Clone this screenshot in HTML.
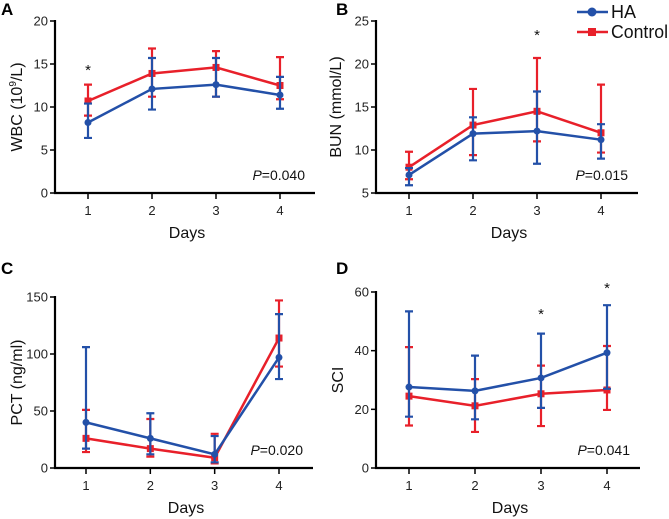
<!DOCTYPE html>
<html><head><meta charset="utf-8"><style>
html,body{margin:0;padding:0;background:#fff;}
svg{display:block;font-family:"Liberation Sans",Arial,sans-serif;}
</style></head><body>
<svg id="fig" width="669" height="519" viewBox="0 0 669 519">
  <g>
    <g>
      <line x1="577" y1="12" x2="608" y2="12" stroke="#2350a8" stroke-width="2.5"/>
      <circle cx="592" cy="12" r="4.5" fill="#2350a8"/>
      <text x="611" y="18" font-size="18" fill="#111">HA</text>
    </g>
    <g>
      <line x1="577" y1="32" x2="608" y2="32" stroke="#e8202a" stroke-width="2.5"/>
      <rect x="588" y="28" width="8" height="8" fill="#e8202a"/>
      <text x="611" y="38" font-size="18" fill="#111" textLength="57" lengthAdjust="spacingAndGlyphs">Control</text>
    </g>
  </g>
</svg>
<script>
const categories=["1","2","3","4"];
// Panel A WBC
const aHA=[8.2,12.1,12.6,11.4], aHAlo=[6.4,9.7,11.2,9.8], aHAhi=[10.4,15.7,15.7,13.5];
const aCt=[10.7,13.9,14.6,12.5], aCtlo=[9.0,11.2,11.2,10.9], aCthi=[12.6,16.8,16.5,15.8];
const aTicks=[0,5,10,15,20];
// Panel B BUN
const bHA=[7.1,11.9,12.2,11.2], bHAlo=[5.9,8.8,8.4,9.0], bHAhi=[7.9,13.8,16.8,13.0];
const bCt=[8.0,12.9,14.5,12.0], bCtlo=[6.6,9.4,11.0,9.7], bCthi=[9.8,17.1,20.7,17.6];
const bTicks=[5,10,15,20,25];
// Panel C PCT
const cHA=[40,26,12,97], cHAlo=[17,12,5,78], cHAhi=[106,48,28,135];
const cCt=[26,17,9,114], cCtlo=[14,10,4,89], cCthi=[51,43,30,147];
const cTicks=[0,50,100,150];
// Panel D SCI
const dHA=[27.6,26.3,30.7,39.3], dHAlo=[17.5,16.6,20.5,27.0], dHAhi=[53.4,38.3,45.8,55.5];
const dCt=[24.5,21.2,25.3,26.6], dCtlo=[14.5,12.3,14.3,19.8], dCthi=[41.2,30.3,34.9,41.6];
const dTicks=[0,20,40,60];

const NS="http://www.w3.org/2000/svg";
const svg=document.getElementById("fig");
const BLUE="#2350a8", RED="#e8202a";
function mk(tag,attrs,parent){const e=document.createElementNS(NS,tag);for(const k in attrs)e.setAttribute(k,attrs[k]);(parent||svg).appendChild(e);return e;}

function panel(p){
  const g=mk("g",{});
  
  
  const ymin=p.ticks[0], ymax=p.ticks[p.ticks.length-1];
  const ys=v=>p.y0+(v-ymin)/(ymax-ymin)*(p.y1-p.y0);
  const xs=i=>p.x1+(p.x4-p.x1)*i/3;
  const L=mk("text",{x:p.lx,y:p.ly,"font-size":17,"font-weight":"bold",fill:"#000"},g);
  L.textContent=p.letter;
  
  
  const ax=mk("path",{d:`M${p.ax},${p.y1-1}V${p.y0}H${p.axEnd}`,stroke:"#000","stroke-width":2.2,fill:"none"},g);
  
  
  p.ticks.forEach(t=>{
    const y=ys(t);
    mk("line",{x1:p.ax-5,x2:p.ax,y1:y,y2:y,stroke:"#000","stroke-width":1.5},g);
    const tt=mk("text",{x:p.ax-7,y:y+4.5,"font-size":13,"text-anchor":"end",fill:"#222"},g);
    tt.textContent=t;
    
    
  });
  categories.forEach((c,i)=>{
    const x=xs(i);
    mk("line",{x1:x,x2:x,y1:p.y0,y2:p.y0+6,stroke:"#000","stroke-width":1.5},g);
    const tt=mk("text",{x:x,y:p.y0+22,"font-size":13,"text-anchor":"middle",fill:"#222"},g);
    tt.textContent=c;
    
    
  });
  const xt=mk("text",{x:(p.ax+p.axEnd)/2+2,y:p.y0+45,"font-size":16,"text-anchor":"middle",fill:"#111"},g);
  xt.textContent="Days";
  
  
  const yt=mk("text",{x:0,y:0,"font-size":16,"text-anchor":"middle",fill:"#111",transform:`translate(${p.ytx},${(p.y0+p.y1)/2}) rotate(-90)`},g);
  yt.innerHTML=p.ytitle;
  
  
  const pv=mk("text",{x:p.axEnd-10,y:p.y0-13,"font-size":14,"text-anchor":"end",fill:"#111"},g);
  pv.innerHTML='<tspan font-style="italic">P</tspan>='+p.pval;
  
  
  function series(vals,lo,hi,col,name,marker){
    const sg=mk("g",{},g);
    
    
    vals.forEach((v,i)=>{
      const x=xs(i);
      const eb=mk("path",{d:`M${x},${ys(lo[i])}V${ys(hi[i])}M${x-4},${ys(lo[i])}H${x+4}M${x-4},${ys(hi[i])}H${x+4}`,stroke:col,"stroke-width":2.2,fill:"none"},sg);
      
      
    });
    const ln=mk("polyline",{points:vals.map((v,i)=>xs(i)+","+ys(v)).join(" "),stroke:col,"stroke-width":2.5,fill:"none"},sg);
    
    
    vals.forEach((v,i)=>{
      let m;
      if(marker==="c") m=mk("circle",{cx:xs(i),cy:ys(v),r:3.5,fill:col},sg);
      else m=mk("rect",{x:xs(i)-3.5,y:ys(v)-3.5,width:7,height:7,fill:col},sg);
      
      
    });
  }
  series(p.ct,p.ctlo,p.cthi,RED,"control","s");
  series(p.ha,p.halo,p.hahi,BLUE,"ha","c");
  p.stars.forEach(s=>{
    const st=mk("text",{x:xs(s[0]),y:s[1],"font-size":15,"text-anchor":"middle",fill:"#111"},g);
    st.textContent="*";
    
    
  });
}
panel({id:"a-wbc",letter:"A",lx:1,ly:15,ax:55,axEnd:315,x1:88,x4:280,y0:193,y1:21,ticks:aTicks,ytx:22,ytitle:'WBC (10<tspan font-size="10" dy="-6">9</tspan><tspan dy="6">/L)</tspan>',pval:"0.040",ha:aHA,halo:aHAlo,hahi:aHAhi,ct:aCt,ctlo:aCtlo,cthi:aCthi,stars:[[0,75]]});
panel({id:"b-bun",letter:"B",lx:336,ly:15,ax:376,axEnd:638,x1:409,x4:601,y0:193,y1:21,ticks:bTicks,ytx:341,ytitle:'BUN (mmol/L)',pval:"0.015",ha:bHA,halo:bHAlo,hahi:bHAhi,ct:bCt,ctlo:bCtlo,cthi:bCthi,stars:[[2,40]]});
panel({id:"c-pct",letter:"C",lx:1,ly:274,ax:55,axEnd:313,x1:86,x4:279,y0:468,y1:297,ticks:cTicks,ytx:22,ytitle:'PCT (ng/ml)',pval:"0.020",ha:cHA,halo:cHAlo,hahi:cHAhi,ct:cCt,ctlo:cCtlo,cthi:cCthi,stars:[]});
panel({id:"d-sci",letter:"D",lx:336,ly:274,ax:376,axEnd:640,x1:409,x4:607,y0:468,y1:292,ticks:dTicks,ytx:343,ytitle:'SCI',pval:"0.041",ha:dHA,halo:dHAlo,hahi:dHAhi,ct:dCt,ctlo:dCtlo,cthi:dCthi,stars:[[2,319],[3,293]]});
</script>
</body></html>
